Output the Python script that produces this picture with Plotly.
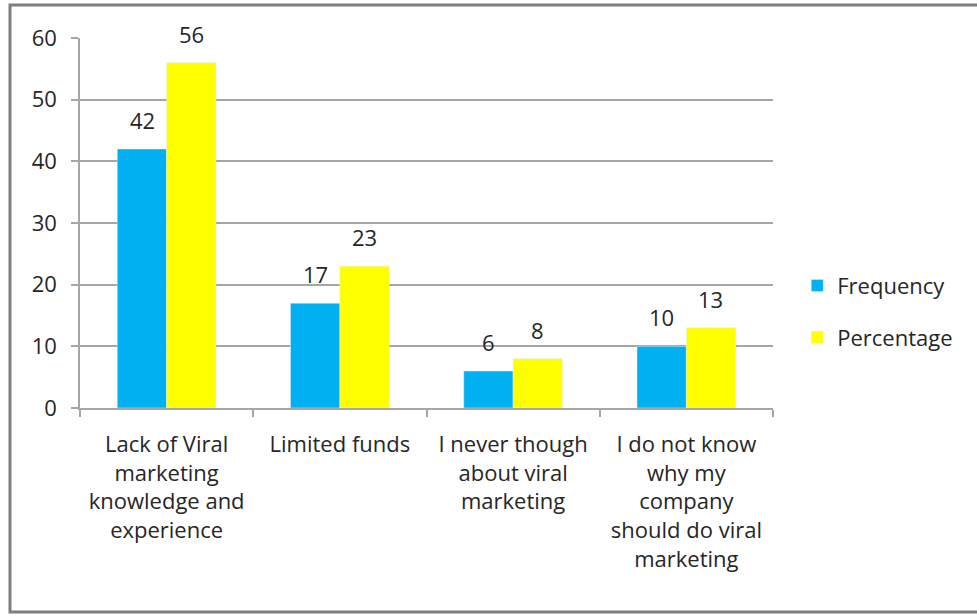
import plotly.graph_objects as go

categories = [
    "Lack of Viral<br>marketing<br>knowledge and<br>experience",
    "Limited funds",
    "I never though<br>about viral<br>marketing",
    "I do not know<br>why my<br>company<br>should do viral<br>marketing",
]
frequency = [42, 17, 6, 10]
percentage = [56, 23, 8, 13]

FONT = "Open Sans, sans-serif"
TXT = "#262626"

fig = go.Figure()
fig.add_trace(go.Bar(name="Frequency", x=categories, y=frequency, marker_color="#00B0F0",
                     legendgroup="f"))
fig.add_trace(go.Bar(name="Percentage", x=categories, y=percentage, marker_color="#FFFF00",
                     legendgroup="p"))

# data labels placed above each bar (group offset of half a bar width)
for vals, shift in ((frequency, -24.5), (percentage, 24.5)):
    for c, v in zip(categories, vals):
        fig.add_annotation(x=c, y=v, xref="x", yref="y", text=str(v), showarrow=False,
                           xshift=shift, yshift=12, yanchor="bottom",
                           font=dict(size=22, color=TXT, family=FONT))

fig.update_layout(
    width=977, height=615,
    margin=dict(l=80, r=204, t=38, b=207),
    paper_bgcolor="white", plot_bgcolor="white",
    barmode="group", bargap=0.43, bargroupgap=0,
    font=dict(family=FONT, size=22, color=TXT),
    legend=dict(x=1.035, y=0.26, xanchor="left", yanchor="middle",
                font=dict(size=22), itemwidth=30, tracegroupgap=20),
    showlegend=True,
    shapes=[dict(type="rect", xref="paper", yref="paper",
                 x0=(10 - 80) / 693, x1=(990 - 80) / 693,
                 y0=(408 - 612) / 370, y1=(408 - 5) / 370,
                 line=dict(color="#7f7f7f", width=3), fillcolor="rgba(0,0,0,0)")],
)
fig.update_yaxes(range=[0, 60], dtick=10, showgrid=True, gridcolor="#a6a6a6", gridwidth=1.5,
                 showline=True, linecolor="#a6a6a6", linewidth=1.5,
                 ticks="outside", ticklen=7, tickcolor="#a6a6a6", tickwidth=1.5,
                 tickfont=dict(size=22), ticklabelstandoff=10, zeroline=False)
fig.update_xaxes(showline=True, linecolor="#a6a6a6", linewidth=1.5,
                 ticks="outside", tickson="boundaries", ticklen=7, tickcolor="#a6a6a6",
                 tickwidth=1.5, tickfont=dict(size=22), tickangle=0, ticklabelstandoff=16)

fig.write_html("out.html", config={"displayModeBar": False},
               post_script="document.body.style.margin='0';")
